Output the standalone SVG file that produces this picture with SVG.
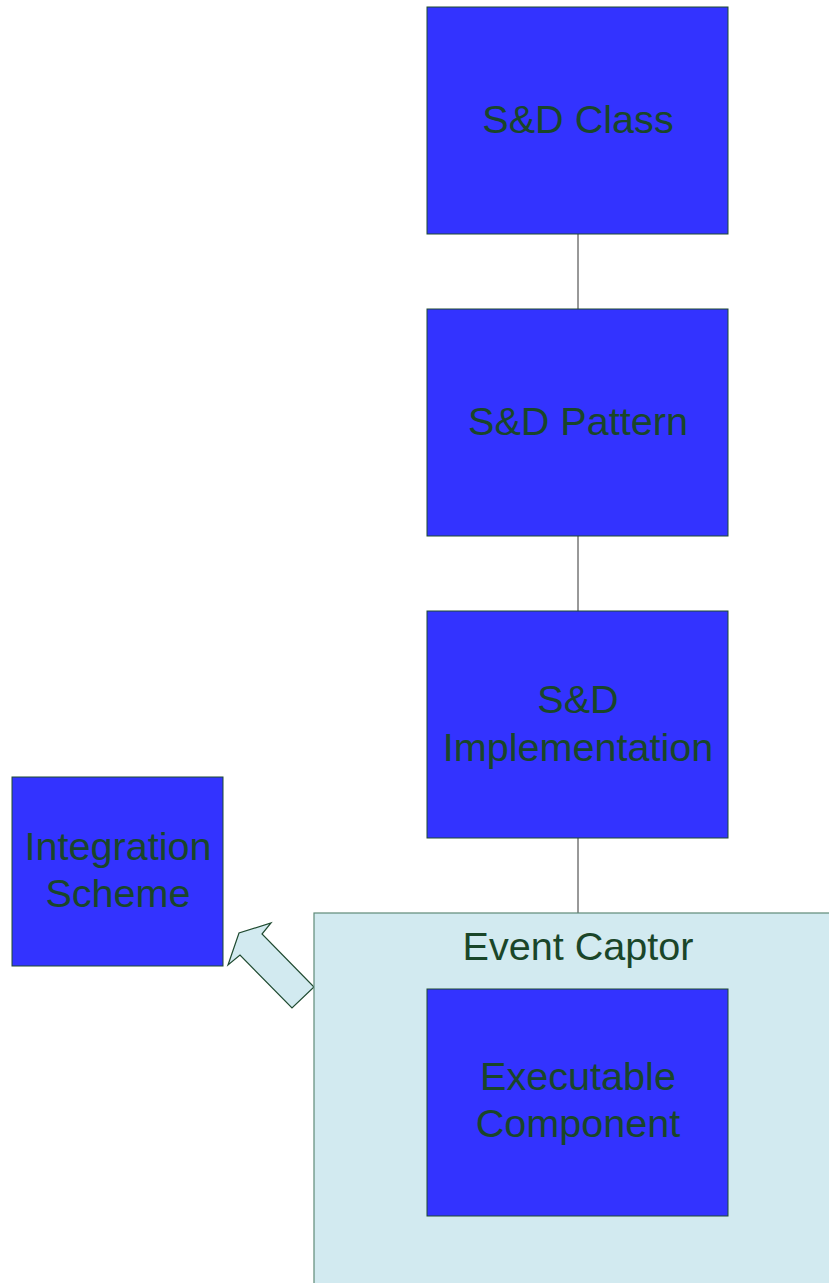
<svg xmlns="http://www.w3.org/2000/svg" width="829" height="1283" viewBox="0 0 829 1283">
  <style>
    .box { fill: #3333ff; stroke: #1f4a30; stroke-width: 1; }
    .container { fill: #d2eaf0; stroke: #5f8a78; stroke-width: 1.2; }
    .label { font-family: "Liberation Sans", Arial, sans-serif; font-size: 39.6px; fill: #1a4629; text-anchor: middle; }
    .link { stroke: #333333; stroke-width: 1; fill: none; }
    .bigarrow { fill: #d2eaf0; stroke: #1f4a30; stroke-width: 1.2; stroke-linejoin: miter; }
  </style>

  <rect width="829" height="1283" fill="#ffffff"/>

  <!-- connectors -->
  <g id="connectors">
    <line class="link" x1="578" y1="234" x2="578" y2="309"/>
    <line class="link" x1="578" y1="536" x2="578" y2="611"/>
    <line class="link" x1="578" y1="838" x2="578" y2="913"/>
    <polygon class="bigarrow" points="228,965 239,933 271,923 262,934 314,987 292,1008 240,955"/>
  </g>

  <g id="sd-class">
    <rect class="box" x="427" y="7" width="301" height="227"/>
    <text class="label" x="578" y="133">S&amp;D Class</text>
  </g>

  <g id="sd-pattern">
    <rect class="box" x="427" y="309" width="301" height="227"/>
    <text class="label" x="578" y="435">S&amp;D Pattern</text>
  </g>

  <g id="sd-implementation">
    <rect class="box" x="427" y="611" width="301" height="227"/>
    <text class="label" x="578" y="713">S&amp;D</text>
    <text class="label" x="578" y="761">Implementation</text>
  </g>

  <g id="integration-scheme">
    <rect class="box" x="12" y="777" width="211" height="189"/>
    <text class="label" x="118" y="860">Integration</text>
    <text class="label" x="118" y="907">Scheme</text>
  </g>

  <g id="event-captor">
    <rect class="container" x="314" y="913" width="520" height="375"/>
    <text class="label" x="578" y="960">Event Captor</text>
  </g>

  <g id="executable-component">
    <rect class="box" x="427" y="989" width="301" height="227"/>
    <text class="label" x="578" y="1090">Executable</text>
    <text class="label" x="578" y="1137">Component</text>
  </g>
</svg>
